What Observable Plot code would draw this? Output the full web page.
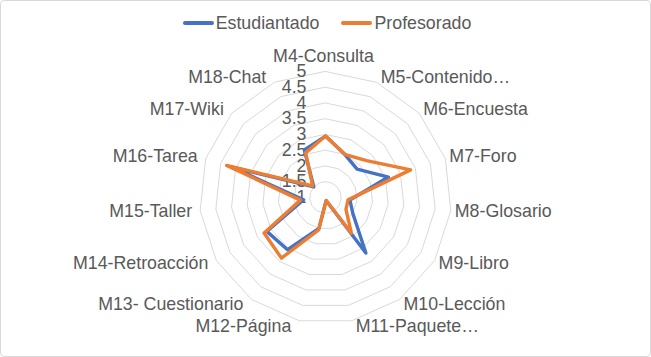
<!DOCTYPE html>
<html><head><meta charset="utf-8">
<script src="https://cdn.jsdelivr.net/npm/d3@7"></script>
<script src="https://cdn.jsdelivr.net/npm/@observablehq/plot@0.6"></script>
<style>
html,body{margin:0;padding:0;background:#fff;}
#wrap{position:relative;width:651px;height:357px;overflow:hidden;font-family:"Liberation Sans",Arial,sans-serif;color:#595959;background:#fff;}
#frame{position:absolute;left:0;top:0;width:651px;height:357px;box-sizing:border-box;border:1px solid #D9D9D9;border-radius:4px;pointer-events:none;}
#legend{position:absolute;left:0;top:12px;width:651px;height:22px;display:flex;justify-content:center;align-items:center;font-size:17.8px;padding-left:3px;box-sizing:border-box;}
#legend .item{display:flex;align-items:center;}
#legend .item + .item{margin-left:22px;}
#legend .sw{display:inline-block;width:31px;height:4px;border-radius:2px;margin-right:2px;}
#chart{position:absolute;left:0;top:40px;}
</style></head>
<body>
<div id="wrap">
  <div id="legend"></div>
  <div id="chart"></div>
  <div id="frame"></div>
</div>
<script>
const categories = ["M4-Consulta","M5-Contenido…","M6-Encuesta","M7-Foro","M8-Glosario","M9-Libro","M10-Lección","M11-Paquete…","M12-Página","M13- Cuestionario","M14-Retroacción","M15-Taller","M16-Tarea","M17-Wiki","M18-Chat"];
const estudiantado = [2.95,2.5,2.35,3.1,1.78,2.0,3.18,1.1,2.0,3.05,3.15,1.7,4.15,1.5,2.65];
const profesorado  = [2.95,2.5,2.75,3.84,1.72,1.75,2.4,1.1,2.05,3.38,3.25,1.8,4.3,1.55,2.55];
const seriesNames = ["Estudiantado","Profesorado"];
const seriesColors = ["#4472C4","#ED7D31"];
const ticks = [1,1.5,2,2.5,3,3.5,4,4.5,5];
const tickLabels = ["1","1.5","2","2.5","3","3.5","4","4.5","5"];

const vMin = 1, vMax = 5;
const R = 126;               // outer radius in px
const unit = R / (vMax - vMin);
const cx = 325, cy = 157;
const n = categories.length;
const ang = i => 2 * Math.PI * i / n;
const pt = (i, v) => ({x: (v - vMin) * Math.sin(ang(i)), y: (v - vMin) * Math.cos(ang(i))});

// legend
const leg = document.getElementById("legend");
seriesNames.forEach((s, k) => {
  const it = document.createElement("span"); it.className = "item";
  const sw = document.createElement("span"); sw.className = "sw"; sw.style.background = seriesColors[k];
  it.appendChild(sw); it.appendChild(document.createTextNode(s));
  leg.appendChild(it);
});

const rings = [];
ticks.filter(t => t > vMin).forEach(t => categories.forEach((c, i) => rings.push({level: t, ...pt(i, t)})));

const seriesData = [estudiantado, profesorado].map((arr, k) => arr.map((v, i) => ({s: seriesNames[k], ...pt(i, v)})));

const span = vMax - vMin;
const labels = categories.map((c, i) => {
  const s = Math.sin(ang(i)), co = Math.cos(ang(i));
  const anchor = Math.abs(s) < 0.1 ? "middle" : (s > 0 ? "start" : "end");
  if (anchor === "middle") return {c, anchor, x: 0, y: (span + 15 / unit) * Math.sign(co)};
  return {c, anchor, x: span * s, y: (span + 6 / unit) * co};
});
const labelDx = {start: 4, middle: -2, end: -8};

const tickData = ticks.map((t, i) => ({y: t - vMin, label: tickLabels[i]}));

const plot = Plot.plot({
  width: 651, height: 317,
  x: {domain: [-span, span], range: [cx - R, cx + R], axis: null},
  y: {domain: [-span, span], range: [cy + R, cy - R], axis: null},
  style: {fontFamily: "'Liberation Sans', Arial, sans-serif", fontSize: "17.8px", background: "transparent", overflow: "visible"},
  marks: [
    Plot.line(rings, {x: "x", y: "y", z: "level", curve: "linear-closed", stroke: "#D9D9D9", strokeWidth: 1}),
    Plot.text(tickData, {x: 0, y: "y", text: "label", textAnchor: "end", dx: -19, fill: "#595959", fontSize: 17.8, lineAnchor: "middle"}),
    ...seriesData.map((d, k) => Plot.line(d, {x: "x", y: "y", curve: "linear-closed", stroke: seriesColors[k], strokeWidth: 3.4, strokeLinejoin: "round", strokeLinecap: "round"})),
    ...["start", "middle", "end"].map(a => Plot.text(labels.filter(l => l.anchor === a), {x: "x", y: "y", text: "c", textAnchor: a, dx: labelDx[a], lineAnchor: "middle", fill: "#595959", fontSize: 17.8}))
  ]
});
document.getElementById("chart").appendChild(plot);
</script>
</body></html>
